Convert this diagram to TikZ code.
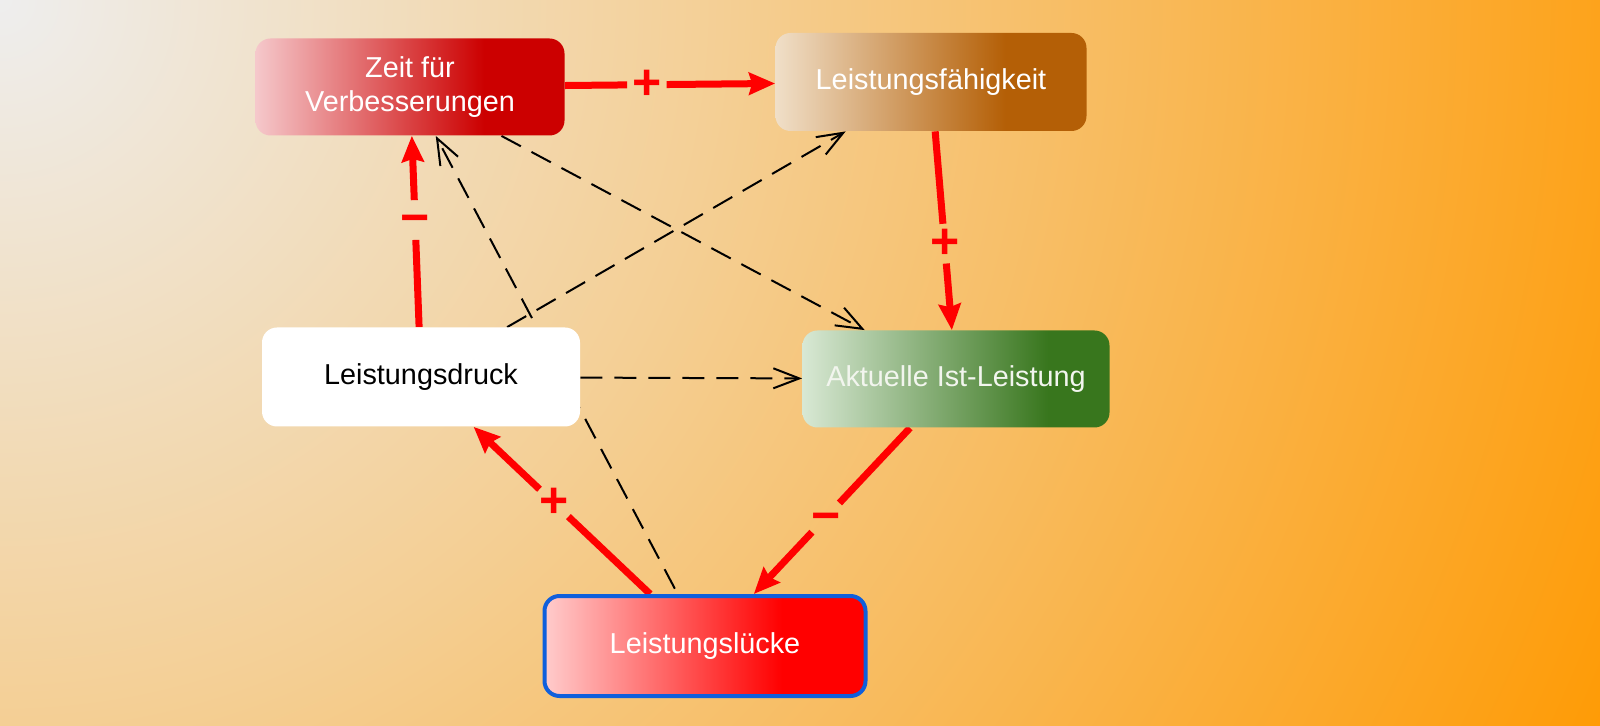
\documentclass[tikz,border=0pt]{standalone}
\usepackage{fontspec}
\setmainfont{Liberation Sans}
\usetikzlibrary{arrows.meta}
\pgfdeclarelayer{bglayer}
\pgfdeclarelayer{edgelayer}
\pgfsetlayers{bglayer,edgelayer,main}
\definecolor{bgA}{HTML}{EEEEEE}
\definecolor{bgB}{HTML}{F4CF95}
\definecolor{bgC}{HTML}{FF9900}
\definecolor{zeitL}{HTML}{F5C8CB}
\definecolor{zeitR}{HTML}{CC0000}
\definecolor{lfL}{HTML}{F0DFC8}
\definecolor{lfR}{HTML}{B45F06}
\definecolor{aktL}{HTML}{D8E8D4}
\definecolor{aktR}{HTML}{38761D}
\definecolor{luL}{HTML}{FFCCCC}
\definecolor{luR}{HTML}{FF0000}
\definecolor{luBorder}{HTML}{0F5FDC}
\definecolor{redline}{HTML}{FF0000}
\definecolor{akttext}{HTML}{F2F5EE}
\pgfdeclareradialshading{bgsh}{\pgfpoint{0bp}{0bp}}{color(0bp)=(bgA); color(10bp)=(bgB); color(25bp)=(bgC); color(50bp)=(bgC)}
\pgfdeclarehorizontalshading{zeitsh}{100bp}{color(0bp)=(zeitL); color(25bp)=(zeitL); color(62bp)=(zeitR); color(100bp)=(zeitR)}
\pgfdeclarehorizontalshading{lfsh}{100bp}{color(0bp)=(lfL); color(25bp)=(lfL); color(62bp)=(lfR); color(100bp)=(lfR)}
\pgfdeclarehorizontalshading{aktsh}{100bp}{color(0bp)=(aktL); color(25bp)=(aktL); color(65bp)=(aktR); color(100bp)=(aktR)}
\pgfdeclarehorizontalshading{lush}{100bp}{color(0bp)=(luL); color(25bp)=(luL); color(62bp)=(luR); color(100bp)=(luR)}
\tikzset{
  box/.style={rounded corners=7.5pt, inner sep=0pt, align=center, text=white,
    font=\fontsize{14.4}{16.8}\selectfont},
  redarrow/.style={draw=redline, line width=3.5pt},
  redtip/.style={-{Stealth[length=13pt,width=11pt,inset=1.5pt]}},
  dashedge/.style={draw=black, line width=1pt, dash pattern=on 11pt off 6pt,
    -{Straight Barb[length=13pt,width=10pt]}},
  sign/.style={text=redline, font=\fontsize{25}{30}\bfseries\selectfont, inner sep=0pt}
}
\begin{document}
\begin{tikzpicture}[x=0.5pt,y=-0.5pt]
\useasboundingbox (0,0) rectangle (1600,726);
\begin{pgfonlayer}{bglayer}
  \begin{scope}
    \clip (0,0) rectangle (1600,726);
    \shade[shading=bgsh] (0,0) circle[radius=900pt];
  \end{scope}
\end{pgfonlayer}

\node[box, shade, shading=zeitsh, minimum width=154.5pt, minimum height=48.5pt] (zeit) at (410,87) {Zeit für\\Verbesserungen};
\node[box, shade, shading=lfsh, minimum width=155.5pt, minimum height=49pt] (lf) at (931,82) {Leistungsfähigkeit};
\node[box, fill=white, text=black, minimum width=159pt, minimum height=49.5pt] (ld) at (421,377) {Leistungsdruck};
\node[box, shade, shading=aktsh, text=akttext, minimum width=153.5pt, minimum height=48.5pt] (akt) at (956,379) {Aktuelle Ist-Leistung};
\node[box, shade, shading=lush, draw=luBorder, line width=2pt, minimum width=160.5pt, minimum height=50pt] (lu) at (705,646) {Leistungslücke};

\begin{pgfonlayer}{edgelayer}
  % dashed influences
  \draw[dashedge] (zeit) -- (akt);
  \draw[dashedge] (ld) -- (lf);
  \draw[dashedge, shorten <=3pt] (lu) -- (zeit);
  \draw[dashedge] (ld) -- (akt);

  % red influences with signs
  \path (zeit) -- (lf) coordinate[pos=0.296] (e1a) coordinate[pos=0.39] (e1m) coordinate[pos=0.484] (e1b);
  \draw[redarrow] (zeit) -- (e1a);
  \draw[redarrow, redtip] (e1b) -- (lf);

  \path (lf) -- (akt) coordinate[pos=0.465] (e2a) coordinate[pos=0.565] (e2m) coordinate[pos=0.665] (e2b);
  \draw[redarrow] (lf) -- (e2a);
  \draw[redarrow, redtip] (e2b) -- (akt);

  \path (akt) -- (lu) coordinate[pos=0.452] (e3a) coordinate[pos=0.54] (e3m) coordinate[pos=0.628] (e3b);
  \draw[redarrow] (akt) -- (e3a);
  \draw[redarrow, redtip] (e3b) -- (lu);

  \path (lu) -- (ld) coordinate[pos=0.463] (e4a) coordinate[pos=0.545] (e4m) coordinate[pos=0.627] (e4b);
  \draw[redarrow] (lu) -- (e4a);
  \draw[redarrow, redtip] (e4b) -- (ld);

  \path (ld) -- (zeit) coordinate[pos=0.456] (e5a) coordinate[pos=0.56] (e5m) coordinate[pos=0.664] (e5b);
  \draw[redarrow] (ld) -- (e5a);
  \draw[redarrow, redtip] (e5b) -- (zeit);
\end{pgfonlayer}

\node[sign] (s1) at (e1m) {+};
\node[sign] (s2) at (e2m) {+};
\node[sign, yshift=-2.5pt] (s3) at (e3m) {−};
\node[sign] (s4) at (e4m) {+};
\node[sign, yshift=-2.5pt] (s5) at (e5m) {−};
\end{tikzpicture}
\end{document}
